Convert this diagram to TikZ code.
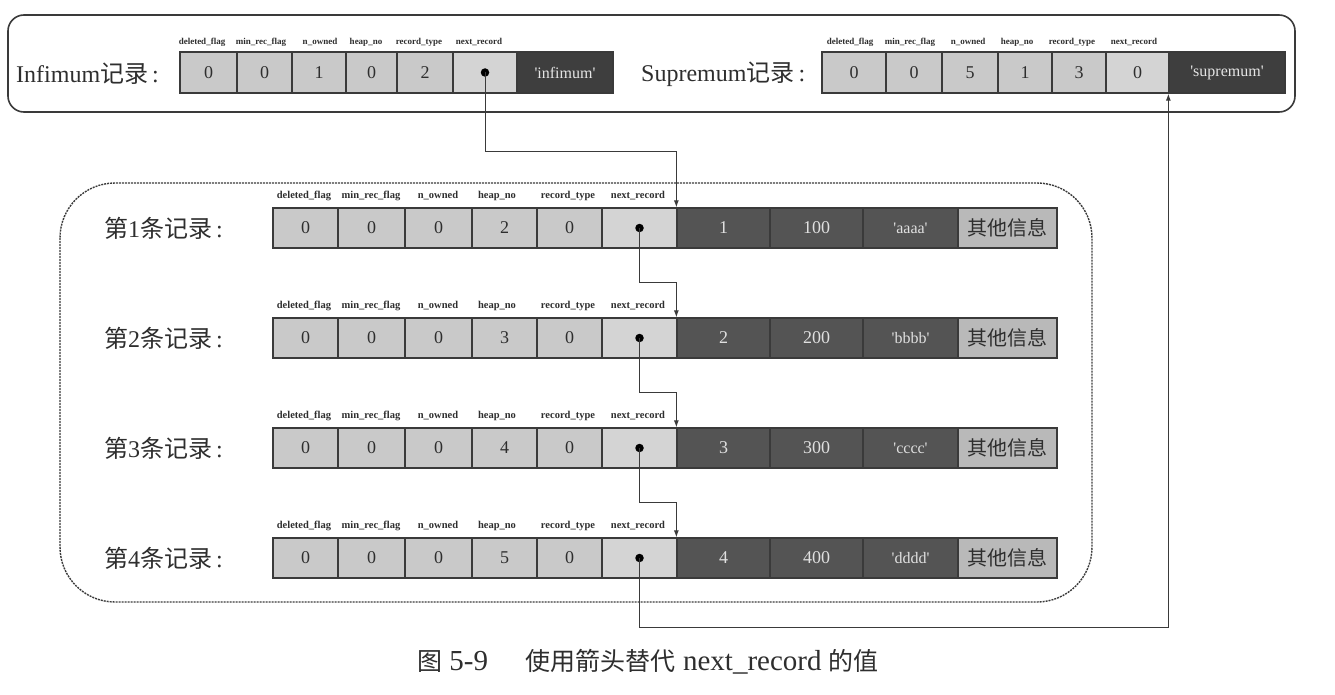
\documentclass[tikz,border=0pt]{standalone}
\usepackage{fontspec}
\setmainfont{Liberation Serif}[Ligatures=TeXOff]
\newfontfamily\cjk{Noto Sans CJK SC}
\usetikzlibrary{arrows.meta}
\definecolor{lightc}{HTML}{C9C9C9}
\definecolor{nextc}{HTML}{D4D4D4}
\definecolor{darkc}{HTML}{545454}
\definecolor{darkerc}{HTML}{3E3E3E}
\definecolor{otherc}{HTML}{B9B9B9}
\definecolor{inkc}{HTML}{2E2E2E}
\definecolor{linec}{HTML}{3A3A3A}
\begin{document}
\begin{tikzpicture}[x=1pt,y=-1pt,
  cell/.style={draw=linec,line width=1.3pt,inner sep=0pt,text=inkc,font=\fontsize{18}{18}\selectfont},
  hcell/.style={cell,fill=lightc},
  ncell/.style={cell,fill=nextc},
  dcell/.style={cell,fill=darkc,text=white!88!black},
  icell/.style={cell,fill=darkerc,text=white!90!black,font=\fontsize{16}{16}\selectfont},
  ocell/.style={cell,fill=otherc,font=\cjk\fontsize{20}{20}\selectfont},
  fld/.style={inner sep=0pt,text=inkc,font=\bfseries\fontsize{10.5}{10.5}\selectfont},
  tfld/.style={fld,font=\bfseries\fontsize{9}{9}\selectfont},
  rlabel/.style={inner sep=0pt,anchor=west,text=inkc,font=\fontsize{24}{24}\selectfont},
  dot/.style={circle,fill=black,inner sep=0pt,minimum size=8.5pt},
  link/.style={draw=linec,line width=1pt,-{Latex[length=7pt,width=5pt]}},
  frame/.style={draw=linec,line width=1.6pt,rounded corners=16pt},
  dframe/.style={draw=linec,line width=1.4pt,dash pattern=on 2pt off 1pt,rounded corners=55pt}
]
\useasboundingbox (0,0) rectangle (1335,695);

% top frame
\draw[frame] (8,15) rectangle (1295,112);

% Infimum record
\node[rlabel] (inflab) at (16,74) {Infimum{\cjk 记录}\,:};
\node[hcell,minimum width=57pt,minimum height=41pt] (inf1) at (208.5,72.5) {0};
\node[hcell,minimum width=55pt,minimum height=41pt] (inf2) at (264.5,72.5) {0};
\node[hcell,minimum width=54pt,minimum height=41pt] (inf3) at (319,72.5) {1};
\node[hcell,minimum width=51pt,minimum height=41pt] (inf4) at (371.5,72.5) {0};
\node[hcell,minimum width=56pt,minimum height=41pt] (inf5) at (425,72.5) {2};
\node[ncell,minimum width=64pt,minimum height=41pt] (inf6) at (485,72.5) {};
\node[icell,minimum width=96pt,minimum height=41pt] (inf7) at (565,72.5) {'infimum'};
\node[dot] (infdot) at (inf6.center) {};
\node[tfld] (inff1) at (202,42) {deleted\_flag};
\node[tfld] (inff2) at (261,42) {min\_rec\_flag};
\node[tfld] (inff3) at (320,42) {n\_owned};
\node[tfld] (inff4) at (366,42) {heap\_no};
\node[tfld] (inff5) at (419,42) {record\_type};
\node[tfld] (inff6) at (479,42) {next\_record};

% Supremum record
\node[rlabel] (suplab) at (641,74) {Supremum{\cjk 记录}\,:};
\node[hcell,minimum width=64pt,minimum height=41pt] (sup1) at (854,72.5) {0};
\node[hcell,minimum width=56pt,minimum height=41pt] (sup2) at (914,72.5) {0};
\node[hcell,minimum width=56pt,minimum height=41pt] (sup3) at (970,72.5) {5};
\node[hcell,minimum width=54pt,minimum height=41pt] (sup4) at (1025,72.5) {1};
\node[hcell,minimum width=54pt,minimum height=41pt] (sup5) at (1079,72.5) {3};
\node[ncell,minimum width=63pt,minimum height=41pt] (sup6) at (1137.5,72.5) {0};
\node[icell,minimum width=116pt,minimum height=41pt] (sup7) at (1227,72.5) {'supremum'};
\node[tfld] (supf1) at (850,42) {deleted\_flag};
\node[tfld] (supf2) at (910,42) {min\_rec\_flag};
\node[tfld] (supf3) at (968,42) {n\_owned};
\node[tfld] (supf4) at (1017,42) {heap\_no};
\node[tfld] (supf5) at (1072,42) {record\_type};
\node[tfld] (supf6) at (1134,42) {next\_record};

% dashed frame
\draw[dframe] (60,183) rectangle (1092,602);

% user records
\foreach \r/\top/\hn/\val/\str in {1/208/2/100/aaaa,2/318/3/200/bbbb,3/428/4/300/cccc,4/538/5/400/dddd}{
  \node[rlabel] (lab\r) at (104,\top+20) {{\cjk 第}\r{\cjk 条记录}\,:};
  \node[hcell,minimum width=65pt,minimum height=40pt] (r\r-c1) at (305.5,\top+20) {0};
  \node[hcell,minimum width=67pt,minimum height=40pt] (r\r-c2) at (371.5,\top+20) {0};
  \node[hcell,minimum width=67pt,minimum height=40pt] (r\r-c3) at (438.5,\top+20) {0};
  \node[hcell,minimum width=65pt,minimum height=40pt] (r\r-c4) at (504.5,\top+20) {\hn};
  \node[hcell,minimum width=65pt,minimum height=40pt] (r\r-c5) at (569.5,\top+20) {0};
  \node[ncell,minimum width=75pt,minimum height=40pt] (r\r-c6) at (639.5,\top+20) {};
  \node[dcell,minimum width=93pt,minimum height=40pt] (r\r-c7) at (723.5,\top+20) {\r};
  \node[dcell,minimum width=93pt,minimum height=40pt] (r\r-c8) at (816.5,\top+20) {\val};
  \node[dcell,minimum width=95pt,minimum height=40pt,font=\fontsize{16}{16}\selectfont] (r\r-c9) at (910.5,\top+20) {'\str'};
  \node[ocell,minimum width=99pt,minimum height=40pt] (r\r-c10) at (1007.5,\top+20) {其他信息};
  \node[dot] (dot\r) at (r\r-c6.center) {};
  \node[fld] (f\r-1) at (304,\top-12) {deleted\_flag};
  \node[fld] (f\r-2) at (371,\top-12) {min\_rec\_flag};
  \node[fld] (f\r-3) at (438,\top-12) {n\_owned};
  \node[fld] (f\r-4) at (497,\top-12) {heap\_no};
  \node[fld] (f\r-5) at (568,\top-12) {record\_type};
  \node[fld] (f\r-6) at (638,\top-12) {next\_record};
}

% connectors
\draw[link] (infdot.center) -- ++(0,79.5) -| (r1-c7.north west);
\draw[link] (dot1.center) -- ++(0,54) -| (r2-c7.north west);
\draw[link] (dot2.center) -- ++(0,54) -| (r3-c7.north west);
\draw[link] (dot3.center) -- ++(0,54) -| (r4-c7.north west);
\draw[link] (dot4.center) -- ++(0,69) -| (sup7.south west);

% caption
\node[inner sep=0pt,text=inkc,font=\fontsize{29}{29}\selectfont] (cap) at (648,662) {{\cjk\fontsize{25}{25}\selectfont 图} 5-9\hspace{1.3em}{\cjk\fontsize{25}{25}\selectfont 使用箭头替代} next\_record {\cjk\fontsize{25}{25}\selectfont 的值}};
\end{tikzpicture}
\end{document}
